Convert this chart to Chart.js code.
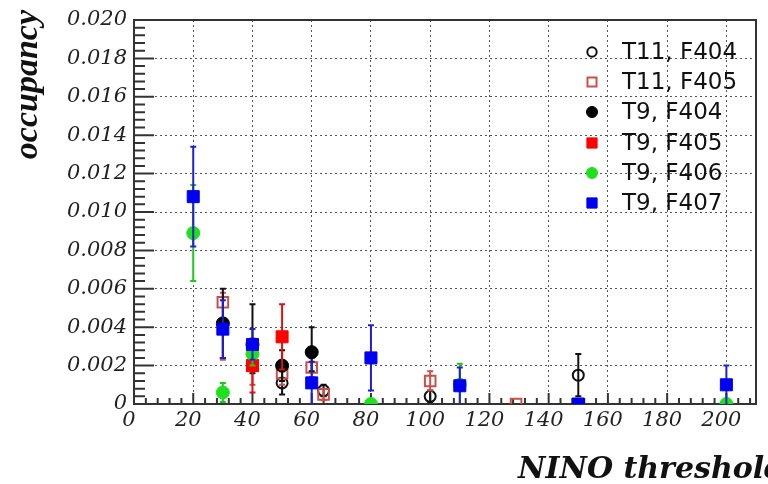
<!DOCTYPE html>
<html>
<head>
<meta charset="utf-8">
<script src="https://cdn.jsdelivr.net/npm/chart.js@4.4.1/dist/chart.umd.min.js"></script>
<style>
  html, body { margin: 0; padding: 0; background: #fff; }
</style>
</head>
<body>
<canvas id="occChart" width="768" height="484"></canvas>
<script>
// tick values on the two axes
const xTicks = [0, 20, 40, 60, 80, 100, 120, 140, 160, 180, 200];
const yTicks = [0, 0.002, 0.004, 0.006, 0.008, 0.010, 0.012, 0.014, 0.016, 0.018, 0.020];

// data: threshold (x), occupancy (y), error down / up
const xT11F404 = [50, 64, 100, 150];
const yT11F404 = [0.0011, 0.0007, 0.0004, 0.0015];
const loT11F404 = [0.0006, 0.0003, 0.0003, 0.0011];
const hiT11F404 = [0.0006, 0.0003, 0.0003, 0.0011];

const xT11F405 = [30, 40, 50, 60, 64, 100, 129];
const yT11F405 = [0.0053, 0.0020, 0.0016, 0.0019, 0.0005, 0.0012, 0];
const loT11F405 = [0.0030, 0.0010, 0.0006, 0.0005, 0.0003, 0.0005, 0];
const hiT11F405 = [0.0005, 0.0010, 0.0006, 0.0005, 0.0003, 0.0005, 0];

const xT9F404 = [30, 40, 50, 60];
const yT9F404 = [0.0042, 0.0031, 0.0020, 0.0027];
const loT9F404 = [0.0018, 0.0015, 0.0008, 0.0010];
const hiT9F404 = [0.0018, 0.0021, 0.0008, 0.0013];

const xT9F405 = [40, 50];
const yT9F405 = [0.0020, 0.0035];
const loT9F405 = [0.0014, 0.0017];
const hiT9F405 = [0.0014, 0.0017];

const xT9F406 = [20, 30, 40, 80, 110, 200];
const yT9F406 = [0.0089, 0.0006, 0.0026, 0, 0.0010, 0];
const loT9F406 = [0.0025, 0.0005, 0.0006, 0, 0.0011, 0];
const hiT9F406 = [0.0025, 0.0005, 0.0006, 0, 0.0011, 0];

const xT9F407 = [20, 30, 40, 60, 80, 110, 150, 200];
const yT9F407 = [0.0108, 0.0039, 0.0031, 0.0011, 0.0024, 0.00095, 0, 0.0010];
const loT9F407 = [0.0026, 0.0015, 0.0008, 0.0011, 0.0017, 0.00095, 0, 0.0010];
const hiT9F407 = [0.0026, 0.0015, 0.0008, 0.0011, 0.0017, 0.00095, 0, 0.0010];

const points = (xs, ys) => xs.map((x, i) => ({ x: x, y: ys[i] }));

const serif = 'DejaVu Serif';

// vertical error bars with small caps, drawn just before each dataset's markers
const errorBars = {
    id: 'errorBars',
    beforeDatasetDraw(chart, args) {
        const ds = chart.data.datasets[args.index];
        const xs = chart.scales.x, ys = chart.scales.y;
        const ctx = chart.ctx;
        ctx.save();
        ctx.strokeStyle = ds.barColor;
        ctx.lineWidth = 2;
        ds.data.forEach((p, i) => {
            const lo = ds.errLo[i], hi = ds.errHi[i];
            if (!lo && !hi) return;
            const px = xs.getPixelForValue(p.x);
            const top = ys.getPixelForValue(p.y + hi);
            const bot = ys.getPixelForValue(Math.max(p.y - lo, 0));
            ctx.beginPath();
            ctx.moveTo(px, top);
            ctx.lineTo(px, bot);
            ctx.moveTo(px - 3, top);
            ctx.lineTo(px + 3, top);
            if (p.y - lo > 0) {
                ctx.moveTo(px - 3, bot);
                ctx.lineTo(px + 3, bot);
            }
            ctx.stroke();
        });
        ctx.restore();
    }
};

// ROOT style frame with ticks pointing inwards
const frameTicks = {
    id: 'frameTicks',
    beforeDatasetsDraw(chart) {
        const { ctx, chartArea: a, scales: { x, y } } = chart;
        ctx.save();
        ctx.strokeStyle = '#333';
        ctx.lineWidth = 2;
        ctx.strokeRect(a.left, a.top, a.right - a.left, a.bottom - a.top);
        ctx.beginPath();
        for (let v = 0; v <= 210; v += 4) {
            const px = x.getPixelForValue(v);
            const len = v % 20 === 0 ? 11 : 6;
            ctx.moveTo(px, a.bottom);
            ctx.lineTo(px, a.bottom - len);
        }
        for (let k = 0; k <= 50; k++) {
            const py = y.getPixelForValue(k * 0.0004);
            const len = k % 5 === 0 ? 20 : 11;
            ctx.moveTo(a.left, py);
            ctx.lineTo(a.left + len, py);
        }
        ctx.stroke();
        ctx.restore();
    }
};

// axis titles and the legend
const labelsAndLegend = {
    id: 'labelsAndLegend',
    afterDraw(chart) {
        const ctx = chart.ctx;
        ctx.save();
        ctx.fillStyle = '#111';
        ctx.font = 'italic bold 34px "Liberation Serif"';
        ctx.translate(37, 10);
        ctx.rotate(-Math.PI / 2);
        ctx.textAlign = 'right';
        ctx.textBaseline = 'alphabetic';
        ctx.fillText('occupancy', 0, 0);
        ctx.restore();

        ctx.save();
        ctx.fillStyle = '#111';
        ctx.font = 'italic bold 30px "' + serif + '"';
        ctx.textAlign = 'left';
        ctx.textBaseline = 'alphabetic';
        ctx.fillText('NINO threshold', 518, 478);
        ctx.restore();

        const rowY = [52, 82, 112, 143, 173, 203];
        ctx.save();
        ctx.font = '23px "DejaVu Sans"';
        ctx.textBaseline = 'middle';
        ctx.textAlign = 'left';
        chart.data.datasets.forEach((ds, i) => {
            ctx.fillStyle = ds.pointBackgroundColor;
            ctx.strokeStyle = ds.pointBorderColor;
            ctx.lineWidth = ds.pointBorderWidth;
            Chart.helpers.drawPoint(ctx, {
                pointStyle: ds.pointStyle,
                radius: ds.pointRadius * 0.85,
                borderWidth: ds.pointBorderWidth,
                rotation: 0
            }, 592, rowY[i]);
            ctx.fillStyle = '#111';
            ctx.fillText(ds.label, 622, rowY[i] + 1);
        });
        ctx.restore();
    }
};

const series = [
    { label: 'T11, F404', xs: xT11F404, ys: yT11F404, lo: loT11F404, hi: hiT11F404,
      style: 'circle', r: 5.5, fill: 'rgba(0,0,0,0)', edge: '#111', bar: '#111' },
    { label: 'T11, F405', xs: xT11F405, ys: yT11F405, lo: loT11F405, hi: hiT11F405,
      style: 'rect', r: 7.5, fill: 'rgba(0,0,0,0)', edge: '#c8504a', bar: '#c8504a' },
    { label: 'T9, F404', xs: xT9F404, ys: yT9F404, lo: loT9F404, hi: hiT9F404,
      style: 'circle', r: 6.5, fill: '#000', edge: '#000', bar: '#111' },
    { label: 'T9, F405', xs: xT9F405, ys: yT9F405, lo: loT9F405, hi: hiT9F405,
      style: 'rect', r: 8.5, fill: '#ff0000', edge: '#ff0000', bar: '#e01010' },
    { label: 'T9, F406', xs: xT9F406, ys: yT9F406, lo: loT9F406, hi: hiT9F406,
      style: 'circle', r: 6.5, fill: '#1ee01e', edge: '#1ee01e', bar: '#1ec81e' },
    { label: 'T9, F407', xs: xT9F407, ys: yT9F407, lo: loT9F407, hi: hiT9F407,
      style: 'rect', r: 8.5, fill: '#0000f0', edge: '#0000f0', bar: '#2020d0' }
];

const datasets = series.map((s, i) => ({
    label: s.label,
    data: points(s.xs, s.ys),
    errLo: s.lo,
    errHi: s.hi,
    barColor: s.bar,
    pointStyle: s.style,
    pointRadius: s.r,
    pointBackgroundColor: s.fill,
    pointBorderColor: s.edge,
    pointBorderWidth: s.fill === 'rgba(0,0,0,0)' ? 2 : 1,
    showLine: false,
    order: series.length - i // later series drawn on top
}));

const ctx = document.getElementById('occChart').getContext('2d');
new Chart(ctx, {
    type: 'scatter',
    data: { datasets: datasets },
    options: {
        responsive: false,
        animation: false,
        devicePixelRatio: 1,
        events: [],
        layout: { padding: { top: 20, right: 12, left: 0, bottom: 0 } },
        plugins: {
            legend: { display: false },
            tooltip: { enabled: false }
        },
        scales: {
            x: {
                type: 'linear',
                min: 0,
                max: 210,
                afterBuildTicks: s => { s.ticks = xTicks.map(v => ({ value: v })); },
                afterFit: s => { s.height = 80; },
                ticks: {
                    maxRotation: 0,
                    autoSkip: false,
                    labelOffset: -5,
                    padding: 4,
                    color: '#222',
                    font: { family: serif, style: 'italic', size: 21 }
                },
                grid: { color: '#555', lineWidth: 1, drawTicks: false },
                border: { color: '#333', width: 2, dash: [2, 3] }
            },
            y: {
                min: 0,
                max: 0.02,
                afterBuildTicks: s => { s.ticks = yTicks.map(v => ({ value: v })); },
                afterFit: s => { s.width = 134; },
                ticks: {
                    padding: 7,
                    color: '#222',
                    font: { family: serif, style: 'italic', size: 21 },
                    callback: v => (Math.abs(v) < 1e-9 ? '0' : v.toFixed(3))
                },
                grid: { color: '#555', lineWidth: 1, drawTicks: false },
                border: { color: '#333', width: 2, dash: [2, 3] }
            }
        }
    },
    plugins: [errorBars, frameTicks, labelsAndLegend]
});
</script>
</body>
</html>
